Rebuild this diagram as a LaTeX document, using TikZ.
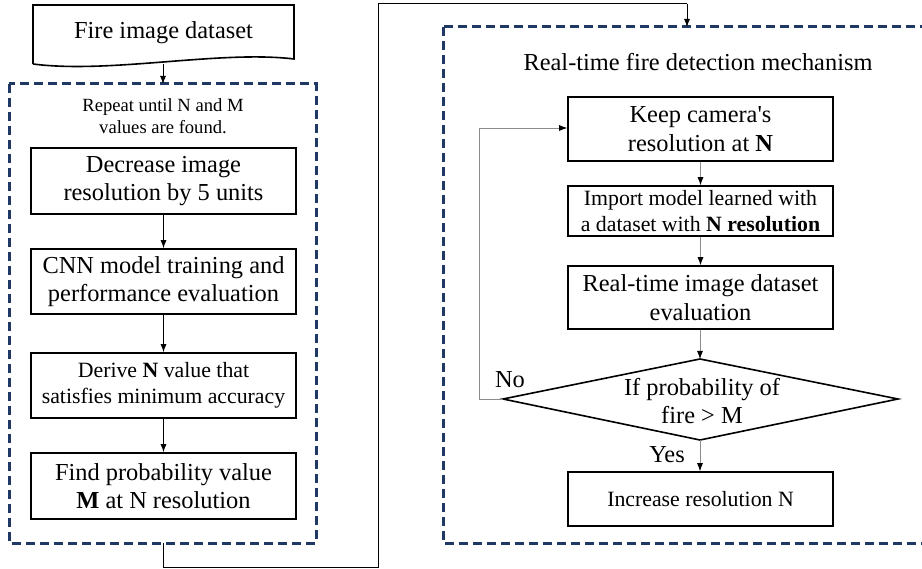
\documentclass[tikz,border=0pt]{standalone}
\usepackage{fontspec}
\setmainfont{Liberation Serif}
\newfontfamily\rawserif{Liberation Serif}[Ligatures=TeXOff]
\usetikzlibrary{arrows.meta}
\definecolor{navy}{HTML}{1F3864}
\tikzset{
  big/.style={font=\fontsize{24.4}{28.5}\selectfont},
  mid/.style={font=\fontsize{21.8}{26.5}\selectfont},
  small/.style={font=\fontsize{18.6}{22}\selectfont},
  box/.style={draw=black, line width=1.6pt, minimum width=265pt, align=center, inner sep=0pt},
  dbox/.style={draw=navy, line width=3pt, dash pattern=on 9pt off 5pt},
  arr/.style={draw=black, line width=0.9pt, -{Latex[length=8pt,width=6pt]}},
  garr/.style={draw=black!45, line width=0.8pt, -{Latex[length=8pt,width=6pt,fill=black,color=black]}},
  line/.style={draw=black, line width=1pt}
}
\begin{document}
\begin{tikzpicture}[x=1pt,y=-1pt]
\useasboundingbox (0,0) rectangle (922,569);
% dashed frames
\draw[dbox] (9,84) rectangle (316,543);
\draw[dbox] (443,27) rectangle (940,543);
% document shape
\coordinate (d1) at (33,5);
\coordinate (d2) at (294,5);
\coordinate (d3) at (294,59);
\coordinate (d4) at (33,64);
\draw[line width=1.6pt] (d4) -- (d1) -- (d2) -- (d3) .. controls (220,50) and (110,74) .. (d4);
\node[big] (doc) at (163.5,33) {Fire image dataset};
\coordinate (docb) at (163,64);
\coordinate (ltop) at (163,84);
\draw[arr] (docb) -- (ltop);
% left texts and boxes
\node[small, align=center] (rep) at (163,116) {Repeat until N and M\\values are found.};
\node[box, big, minimum height=66pt] (dec) at (163.5,181) {Decrease image\\resolution by 5 units};
\node[box, big, minimum height=65pt] (cnn) at (163.5,281.5) {CNN model training and\\performance evaluation};
\node[box, mid, minimum height=65pt] (der) at (163.5,385.5) {Derive \textbf{N} value that\\satisfies minimum accuracy};
\node[box, big, minimum height=66pt] (find) at (163.5,486) {Find probability value\\\textbf{M} at N resolution};
\draw[arr] (dec) -- (cnn);
\draw[arr] (cnn) -- (der);
\draw[arr] (der) -- (find);
% link between frames
\coordinate (lbot) at (163,543);
\coordinate (c1) at (163,567);
\coordinate (c2) at (378,567);
\coordinate (c3) at (378,4);
\coordinate (c4) at (687,4);
\coordinate (rtop) at (687,27);
\draw[line] (lbot) -- (c1) -- (c2) -- (c3) -- (c4);
\draw[arr] (c4) -- (rtop);
% right side
\node[big] (title) at (698,62) {Real-time fire detection mechanism};
\node[box, big, minimum height=64pt] (keep) at (700.5,129) {Keep camera{\rawserif '}s\\resolution at \textbf{N}};
\node[box, mid, minimum height=50pt] (imp) at (700.5,211) {Import model learned with\\a dataset with \textbf{N resolution}};
\node[box, big, minimum height=63pt] (rt) at (700.5,297.5) {Real-time image dataset\\evaluation};
\coordinate (dT) at (700,359);
\coordinate (dB) at (700,440);
\coordinate (dL) at (503,399);
\coordinate (dR) at (898,399);
\draw[line width=1.6pt] (dT) -- (dR) -- (dB) -- (dL) -- cycle;
\node[big, align=center] (dtext) at (702,401) {If probability of\\fire > M};
\node[box, mid, minimum height=54pt] (inc) at (700.5,499) {Increase resolution N};
\draw[garr] (keep) -- (imp);
\draw[garr] (imp) -- (rt);
\draw[garr] (rt.south -| dT) -- (dT);
\draw[garr] (dB) -- (inc.north -| dB);
\coordinate (n1) at (479,399);
\coordinate (n2) at (479,128);
\draw[garr] (dL) -- (n1) -- (n2) -- (keep.west |- n2);
\node[big] (no) at (510,380) {No};
\node[big] (yes) at (667,455) {Yes};
\end{tikzpicture}
\end{document}
